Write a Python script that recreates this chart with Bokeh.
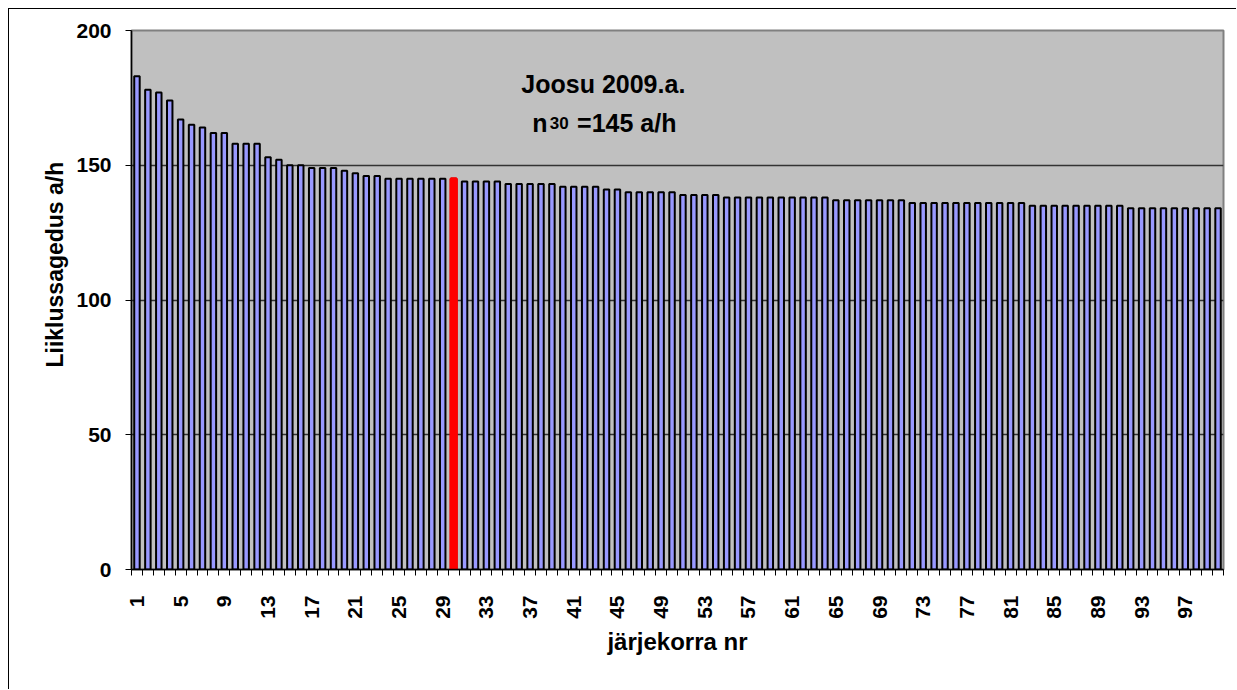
import math
from bokeh.plotting import figure
from bokeh.models import Range1d, FixedTicker, Label, ColumnDataSource, Title
from bokeh.embed import file_html
from bokeh.resources import INLINE

# ---- data -------------------------------------------------------------
rank = list(range(1, 101))
flow = [183, 178, 177, 174, 167, 165, 164, 162, 162, 158,
        158, 158, 153, 152, 150, 150, 149, 149, 149, 148,
        147, 146, 146, 145, 145, 145, 145, 145, 145, 145,
        144, 144, 144, 144, 143, 143, 143, 143, 143, 142,
        142, 142, 142, 141, 141, 140, 140, 140, 140, 140,
        139, 139, 139, 139, 138, 138, 138, 138, 138, 138,
        138, 138, 138, 138, 137, 137, 137, 137, 137, 137,
        137, 136, 136, 136, 136, 136, 136, 136, 136, 136,
        136, 136, 135, 135, 135, 135, 135, 135, 135, 135,
        135, 134, 134, 134, 134, 134, 134, 134, 134, 134]
n30_rank = 30
x_tick_labels = list(range(1, 101, 4))
y_ticks = [0, 50, 100, 150, 200]
title_line1 = "Joosu 2009.a."
title_n = "n"
title_sub = "30"
title_rest = "=145 a/h"
y_title = "Liiklussagedus a/h"
x_title = "järjekorra nr"

FONT = "Liberation Sans"

p = figure(width=1228, height=681, output_backend="svg", toolbar_location=None,
           title=None,
           x_range=Range1d(0.5, 100.5), y_range=Range1d(0, 200),
           min_border_left=122, min_border_right=14,
           min_border_top=21, min_border_bottom=121)
p.styles = {"margin-left": "8px", "margin-top": "8px",
            "border-left": "1px solid black", "border-top": "1px solid black"}

p.background_fill_color = "#C0C0C0"
p.border_fill_color = "white"
p.outline_line_color = "#808080"
p.outline_line_width = 2

src = ColumnDataSource(dict(rank=rank, flow=flow))
p.vbar(x="rank", top="flow", width=0.5, source=src,
       fill_color="#9999FF", line_color="black", line_width=2)
hl = ColumnDataSource(dict(rank=[rank[n30_rank - 1]], flow=[flow[n30_rank - 1]]))
p.vbar(x="rank", top="flow", width=0.5, source=hl,
       fill_color="#FF0000", line_color="#FF0000", line_width=3)

# grid
p.xgrid.visible = False
p.ygrid.ticker = FixedTicker(ticks=[50, 100, 150])
p.ygrid.grid_line_color = "#333333"
p.ygrid.grid_line_width = 1.5

# y axis
ya = p.yaxis[0]
ya.ticker = FixedTicker(ticks=y_ticks)
ya.major_tick_out = 6
ya.major_tick_in = 0
ya.minor_tick_out = 0
ya.minor_tick_in = 0
ya.major_label_standoff = 14
ya.axis_line_color = "black"
ya.axis_line_width = 1.5
ya.major_tick_line_color = "black"
ya.major_label_text_font = FONT
ya.major_label_text_font_size = "21px"
ya.major_label_text_font_style = "bold"
ya.major_label_text_color = "black"

# x axis
xa = p.xaxis[0]
xa.ticker = FixedTicker(ticks=x_tick_labels,
                        minor_ticks=[i + 0.5 for i in range(0, 101)])
xa.major_tick_out = 0
xa.major_tick_in = 0
xa.minor_tick_out = 6
xa.minor_tick_in = 0
xa.minor_tick_line_color = "black"
xa.axis_line_color = "black"
xa.axis_line_width = 1.5
xa.major_label_orientation = math.pi / 2
xa.major_label_standoff = 20
xa.major_label_text_font = FONT
xa.major_label_text_font_size = "21px"
xa.major_label_text_font_style = "bold"
xa.major_label_text_color = "black"
xa.axis_label = x_title
xa.axis_label_text_font = FONT
xa.axis_label_text_font_size = "24px"
xa.axis_label_text_font_style = "bold"
xa.axis_label_text_color = "black"
xa.axis_label_standoff = 6

# y title (left, shifted up like the original)
p.add_layout(Title(text=y_title, align="left", offset=202, standoff=12,
                   text_font=FONT, text_font_style="bold", text_color="black",
                   text_font_size="23px"), "left")

# texts inside the plot
common = dict(text_font=FONT, text_font_style="bold", text_color="black",
              text_baseline="alphabetic")
p.add_layout(Label(x=36.2, y=180.3, text=title_line1, text_font_size="25px", **common))
p.add_layout(Label(x=37.2, y=165.6, text=title_n, text_font_size="25px", **common))
p.add_layout(Label(x=38.8, y=165.6, text=title_sub, text_font_size="17px", **common))
p.add_layout(Label(x=41.3, y=165.6, text=title_rest, text_font_size="25px", **common))

open("out.html", "w").write(file_html(p, INLINE))
